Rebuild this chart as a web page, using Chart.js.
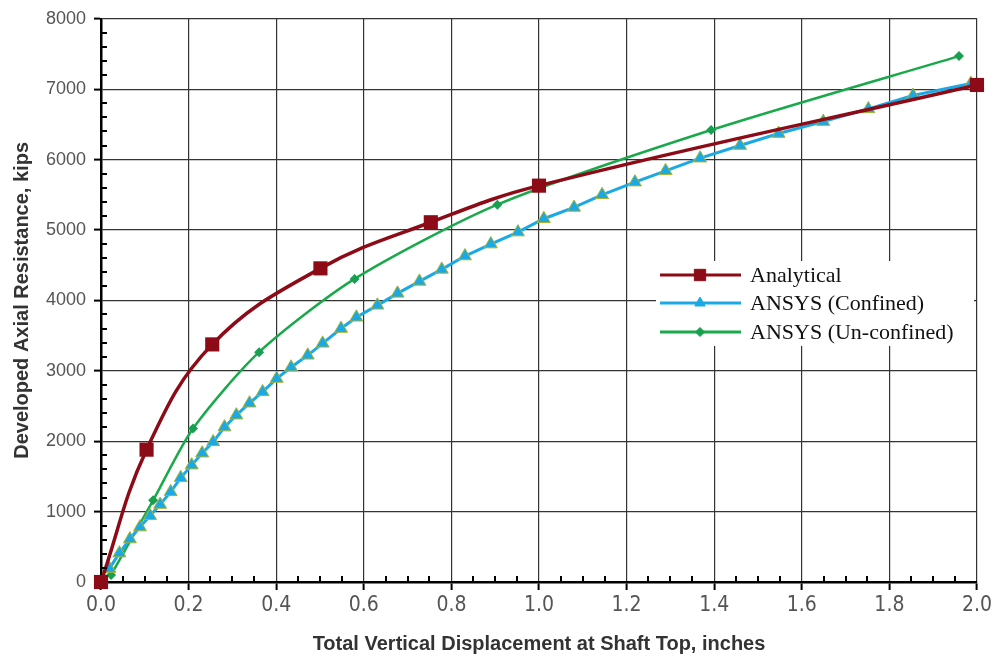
<!DOCTYPE html>
<html>
<head>
<meta charset="utf-8">
<script src="https://cdn.jsdelivr.net/npm/chart.js@4/dist/chart.umd.min.js"></script>
<style>
html,body{margin:0;padding:0;background:#fff}
#wrap{width:995px;height:660px}
</style>
</head>
<body>
<div id="wrap"><canvas id="c" width="995" height="660"></canvas></div>
<script>
// series (displacement in inches, resistance in kips)
var seriesNames=["Analytical","ANSYS (Confined)","ANSYS (Un-confined)"];
var analyticalX=[0,0.104,0.254,0.501,0.753,1.0,2.0];
var analyticalY=[0,1880,3375,4455,5110,5630,7060];
var confinedX=[0.019,0.042,0.066,0.089,0.112,0.135,0.159,0.182,0.207,0.231,0.256,0.282,0.309,0.339,0.369,0.401,0.434,0.472,0.506,0.548,0.583,0.631,0.677,0.727,0.778,0.831,0.890,0.952,1.011,1.080,1.144,1.219,1.289,1.368,1.459,1.547,1.649,1.752,1.854,1.986];
var confinedY=[190,410,610,780,940,1100,1280,1480,1660,1830,1990,2200,2370,2540,2700,2890,3050,3220,3390,3600,3760,3930,4100,4270,4440,4630,4800,4970,5160,5320,5500,5680,5840,6020,6200,6370,6540,6720,6910,7080];
var unconfinedX=[0.023,0.119,0.210,0.361,0.579,0.905,1.393,1.959];
var unconfinedY=[100,1160,2180,3265,4305,5360,6420,7470];
var xTicks=[0,0.2,0.4,0.6,0.8,1.0,1.2,1.4,1.6,1.8,2.0];
var yTicks=[0,1000,2000,3000,4000,5000,6000,7000,8000];

var colRed='#8c0b17', colBlue='#1ba9e6', colGreen='#19a94a';

function pts(xs,ys){
    var out=[];
    for(var i=0;i<xs.length;i++){ out.push({x:xs[i],y:ys[i]}); }
    return out;
}

// small ticks between the labelled ones, pointing into the plot
var minorTicks={
    id:'minorTicks',
    afterDraw:function(chart){
        var ctx=chart.ctx, xs=chart.scales.x, ys=chart.scales.y, a=chart.chartArea;
        ctx.save();
        ctx.strokeStyle='#000';
        ctx.lineWidth=2;
        ctx.beginPath();
        for(var i=1;i<40;i++){
            if(i%4===0) continue;
            var px=Math.round(xs.getPixelForValue(i*0.05));
            ctx.moveTo(px,a.bottom);ctx.lineTo(px,a.bottom-6);
        }
        for(var j=1;j<40;j++){
            if(j%5===0) continue;
            var py=Math.round(ys.getPixelForValue(j*200));
            ctx.moveTo(a.left,py);ctx.lineTo(a.left+6,py);
        }
        ctx.stroke();
        ctx.restore();
    }
};

// legend sitting inside the plot, on a white box
var legendSizes=[8,6,4.5];
var insideLegend={
    id:'insideLegend',
    afterDatasetsDraw:function(chart){
        var ctx=chart.ctx;
        ctx.save();
        ctx.fillStyle='#fff';
        ctx.fillRect(656,261,318,85);
        var rows=[275,303,332];
        for(var i=0;i<3;i++){
            var ds=chart.data.datasets[i];
            ctx.strokeStyle=ds.borderColor;
            ctx.lineWidth=3;
            ctx.beginPath();ctx.moveTo(660,rows[i]);ctx.lineTo(741,rows[i]);ctx.stroke();
            ctx.fillStyle=ds.pointBackgroundColor;
            ctx.strokeStyle=ds.pointBackgroundColor;
            ctx.lineWidth=1;
            Chart.helpers.drawPoint(ctx,{pointStyle:ds.pointStyle,radius:legendSizes[i],borderWidth:1},700,rows[i]);
            ctx.fillStyle='#111';
            ctx.font='22px "Liberation Serif","Times New Roman",serif';
            ctx.textBaseline='middle';
            ctx.textAlign='left';
            ctx.fillText(seriesNames[i],750,rows[i]+1);
        }
        ctx.restore();
    }
};

var chart=new Chart(document.getElementById('c').getContext('2d'),{
    type:'scatter',
    data:{
        datasets:[{
            label:seriesNames[0],
            data:pts(analyticalX,analyticalY),
            showLine:true,
            borderColor:colRed,
            borderWidth:3.5,
            tension:0.4,
            pointStyle:'rect',
            pointRadius:10,
            pointBackgroundColor:colRed,
            pointBorderColor:colRed,
            pointBorderWidth:0,
            clip:false
        },{
            label:seriesNames[1],
            data:pts(confinedX,confinedY),
            showLine:true,
            borderColor:colBlue,
            borderWidth:3,
            tension:0,
            pointStyle:'triangle',
            pointRadius:7.5,
            pointBackgroundColor:colBlue,
            pointBorderColor:'#a9b52c',
            pointBorderWidth:1,
            clip:false
        },{
            label:seriesNames[2],
            data:pts(unconfinedX,unconfinedY),
            showLine:true,
            borderColor:colGreen,
            borderWidth:2.5,
            tension:0.25,
            pointStyle:'rectRot',
            pointRadius:5,
            pointBackgroundColor:'#17a050',
            pointBorderColor:'#17a050',
            pointBorderWidth:0,
            clip:false
        }]
    },
    options:{
        responsive:false,
        animation:false,
        devicePixelRatio:1,
        layout:{padding:{top:17,right:16,left:0,bottom:0}},
        plugins:{legend:{display:false},tooltip:{enabled:false}},
        scales:{
            x:{
                type:'linear',min:0,max:2,
                afterBuildTicks:function(s){ s.ticks=xTicks.map(function(v){return {value:v};}); },
                afterFit:function(s){ s.height=78; },
                ticks:{
                    padding:3,
                    color:'#555',
                    font:{family:'"Liberation Sans Narrow","DejaVu Sans Condensed","Liberation Sans",sans-serif',size:21},
                    callback:function(v){ return Number(v).toFixed(1); }
                },
                grid:{color:'#333',lineWidth:1.2,tickLength:8,tickColor:'#000',tickWidth:2},
                border:{display:true,color:'#000',width:2.5},
                title:{
                    display:true,
                    text:'Total Vertical Displacement at Shaft Top, inches',
                    color:'#333',
                    font:{family:'"Liberation Sans",Arial,sans-serif',size:20,weight:'bold'},
                    padding:{top:0,bottom:4}
                }
            },
            y:{
                type:'linear',min:0,max:8000,
                afterBuildTicks:function(s){ s.ticks=yTicks.map(function(v){return {value:v};}); },
                afterFit:function(s){ s.width=101; },
                ticks:{
                    padding:8,
                    color:'#555',
                    font:{family:'"Liberation Sans",Arial,sans-serif',size:18},
                    callback:function(v){ return String(v); }
                },
                grid:{color:'#333',lineWidth:1.2,tickLength:7,tickColor:'#000',tickWidth:2},
                border:{display:true,color:'#000',width:2.5},
                title:{
                    display:true,
                    text:'Developed Axial Resistance, kips',
                    color:'#333',
                    font:{family:'"Liberation Sans",Arial,sans-serif',size:20,weight:'bold'},
                    padding:{top:10,bottom:0}
                }
            }
        }
    },
    plugins:[minorTicks,insideLegend]
});
</script>
</body>
</html>
